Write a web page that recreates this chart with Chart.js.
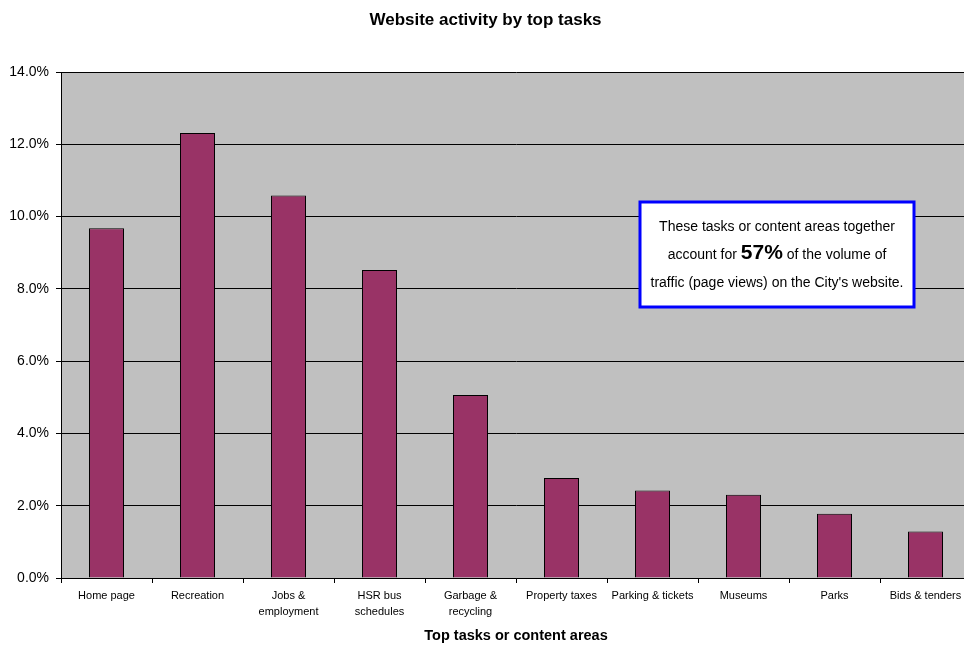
<!DOCTYPE html>
<html>
<head>
<meta charset="utf-8">
<script src="https://cdn.jsdelivr.net/npm/chart.js@4"></script>
<style>
  html, body { margin: 0; padding: 0; background: #fff; overflow: hidden; }
  #wrap { width: 975px; height: 646px; }
</style>
</head>
<body>
<div id="wrap"><canvas id="myChart"></canvas></div>
<script>
  const categories = [
    'Home page',
    'Recreation',
    ['Jobs &', 'employment'],
    ['HSR bus', 'schedules'],
    ['Garbage &', 'recycling'],
    'Property taxes',
    'Parking & tickets',
    'Museums',
    'Parks',
    'Bids & tenders'
  ];

  // share of page views, percent
  const shares = [9.68, 12.31, 10.58, 8.52, 5.06, 2.77, 2.42, 2.30, 1.78, 1.29];

  const yTicks = [0, 2, 4, 6, 8, 10, 12, 14];

  const font = "'Liberation Sans', Arial, sans-serif";

  // grey plot background
  const plotBg = {
    id: 'plotBg',
    beforeDraw(chart) {
      const { ctx, chartArea: a } = chart;
      ctx.save();
      ctx.fillStyle = '#c0c0c0';
      ctx.fillRect(a.left, a.top, a.right - a.left, a.bottom - a.top);
      ctx.restore();
    }
  };

  // note box on the right
  const noteBox = {
    id: 'noteBox',
    afterDraw(chart) {
      const ctx = chart.ctx;
      const x = 640, y = 202, w = 274, h = 105;
      ctx.save();
      ctx.fillStyle = '#fff';
      ctx.fillRect(x, y, w, h);
      ctx.strokeStyle = '#0000ff';
      ctx.lineWidth = 3;
      ctx.strokeRect(x, y, w, h);
      ctx.fillStyle = '#000';
      ctx.textBaseline = 'middle';
      ctx.textAlign = 'center';
      const cx = x + w / 2;
      ctx.font = '14px ' + font;
      ctx.fillText('These tasks or content areas together', cx, 227);
      ctx.fillText("traffic (page views) on the City's website.", cx, 283);
      // middle line with big bold 57%
      const a = 'account for ', b = '57%', c = ' of the volume of';
      const wa = ctx.measureText(a).width, wc = ctx.measureText(c).width;
      ctx.font = 'bold 21px ' + font;
      const wb = ctx.measureText(b).width;
      let sx = cx - (wa + wb + wc) / 2;
      ctx.textAlign = 'left';
      ctx.font = '14px ' + font;
      ctx.fillText(a, sx, 255);
      ctx.font = 'bold 21px ' + font;
      ctx.fillText(b, sx + wa, 253);
      ctx.font = '14px ' + font;
      ctx.fillText(c, sx + wa + wb, 255);
      ctx.restore();
    }
  };

  const data = {
    labels: categories,
    datasets: [{
      label: 'Share of page views',
      data: shares,
      backgroundColor: '#993366',
      borderColor: '#000',
      borderWidth: 1,
      categoryPercentage: 1,
      barPercentage: 0.385
    }]
  };

  const config = {
    type: 'bar',
    data: data,
    options: {
      responsive: true,
      maintainAspectRatio: false,
      animation: false,
      layout: { padding: { left: 0, right: 4, top: 0, bottom: 0 } },
      plugins: {
        legend: { display: false },
        tooltip: { enabled: false },
        title: {
          display: true,
          text: 'Website activity by top tasks',
          color: '#000',
          font: { family: font, size: 17, weight: 'bold' },
          padding: { top: 10, bottom: 41.6 }
        }
      },
      scales: {
        x: {
          offset: true,
          grid: {
            offset: true,
            drawOnChartArea: false,
            drawTicks: true,
            tickLength: 5,
            color: '#000'
          },
          border: { color: '#000', width: 1 },
          ticks: {
            color: '#000',
            font: { family: font, size: 11, lineHeight: 1.45 },
            padding: 5,
            maxRotation: 0,
            autoSkip: false
          },
          title: {
            display: true,
            text: 'Top tasks or content areas',
            color: '#000',
            font: { family: font, size: 14.5, weight: 'bold' },
            padding: { top: 4, bottom: 1 }
          },
          afterFit(scale) { scale.height = 68; }
        },
        y: {
          min: 0,
          max: 14,
          afterBuildTicks(scale) {
            scale.ticks = yTicks.map(v => ({ value: v }));
          },
          grid: {
            color: '#000',
            lineWidth: 1,
            drawTicks: true,
            tickLength: 5
          },
          border: { color: '#000', width: 1 },
          ticks: {
            color: '#000',
            font: { family: font, size: 14 },
            padding: 7,
            callback: v => v.toFixed(1) + '%'
          },
          afterFit(scale) { scale.width = 61; }
        }
      }
    },
    plugins: [plotBg, noteBox]
  };

  const myChart = new Chart(
    document.getElementById('myChart'),
    config
  );
</script>
</body>
</html>
